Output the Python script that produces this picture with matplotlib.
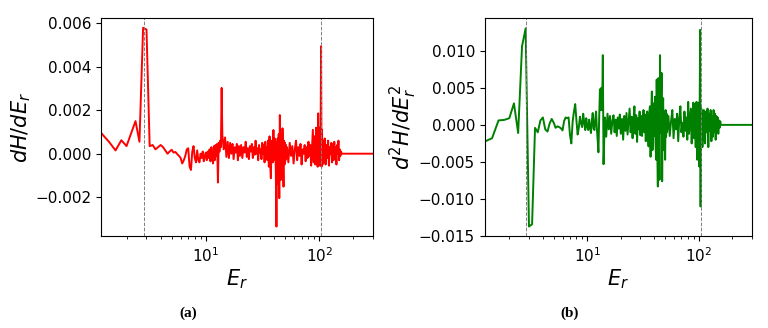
import numpy as np
import matplotlib
matplotlib.use('Agg')
import matplotlib.pyplot as plt

# energy grid shared by both panels
E_r = [1.2, 1.4, 1.6, 1.8, 2.0, 2.2, 2.4, 2.6, 2.8, 3.0,
       3.2, 3.4, 3.6, 3.8, 4.0, 4.2, 4.4, 4.6, 4.8, 5.0,
       5.2, 5.4, 5.6, 5.8, 6.0, 6.2, 6.4, 6.6, 6.8, 7.0,
       7.2, 7.4, 7.6, 7.8, 8.0, 8.2, 8.4, 8.6, 8.8, 9.0,
       9.2, 9.4, 9.6, 9.8, 10.0,
       10.2, 10.4, 10.6, 10.8, 11.0, 11.2, 11.4, 11.6, 11.8, 12.0,
       12.2, 12.4, 12.6, 12.8, 13.0, 13.2, 13.4, 13.6, 13.8, 14.0,
       14.4, 14.8, 15.2, 15.6, 16.0, 16.4, 16.8, 17.2, 17.6, 18.0,
       18.4, 18.8, 19.2, 19.6, 20.0,
       20.5, 21, 21.5, 22, 22.5, 23, 23.5, 24, 24.5, 25,
       25.5, 26, 26.5, 27, 27.5, 28, 28.5, 29, 29.5, 30,
       30.5, 31, 31.5, 32, 32.5, 33, 33.5, 34, 34.5, 35,
       35.5, 36, 36.5, 37, 37.5, 38, 38.5, 39, 39.5, 40,
       40.5, 41, 41.5, 42, 42.5, 43, 43.5, 44, 44.5, 45,
       45.5, 46, 46.5, 47, 47.5, 48, 48.5, 49, 49.5, 50,
       50.5, 51, 51.5, 52,
       53.5, 55, 56.5, 58, 59.5, 61, 62.5, 64, 65.5, 67,
       68.5, 70, 71.5, 73, 74.5, 76, 77.5, 79, 80.5, 82,
       83.5, 85, 86.5, 88, 89.5, 91, 92.5, 94, 95.5,
       97, 98, 99, 100, 101, 102, 103, 104, 105, 106,
       107, 108, 109, 110, 111, 112,
       114, 116, 118, 120, 122, 124, 126, 128, 130, 132,
       134, 136, 138, 140, 142, 144, 146, 148, 150, 152,
       154, 156, 158,
       160, 300]

# dH/dE_r in units of 1e-3
dH = [0.94, 0.55, 0.15, 0.62, 0.35, 0.95, 1.50, 0.55, 5.80, 5.72,
      0.35, 0.40, 0.20, 0.30, 0.40, 0.30, 0.15, 0.00, 0.10, 0.18,
      0.05, 0.08, -0.02, -0.10, -0.20, -0.45, -0.30, -0.10, 0.20, 0.25,
      -0.60, -0.75, 0.10, 0.35, -0.20, -0.40, 0.15, -0.30, -0.40, 0.00,
      -0.20, 0.10, -0.35, -0.10, 0.05,
      -0.30, 0.10, -0.20, 0.20, -0.35, 0.30, -0.20, -0.45, 0.35, -0.30,
      0.40, -0.10, 0.45, -1.33, 0.50, 0.10, 0.60, 0.30, 3.03, 0.85,
      0.20, 0.75, -0.15, 0.55, -0.20, 0.50, 0.00, 0.45, -0.25, 0.30,
      0.05, 0.45, -0.30, 0.35, -0.10,
      0.40, -0.20, 0.30, 0.05, 0.55, -0.15, 0.25, -0.25, 0.35, 0.10,
      0.45, -0.20, 0.30, -0.05, 0.60, 0.00, 0.25, -0.30, 0.40, 0.05,
      0.20, -0.25, 0.50, 0.00, 0.40, -0.40, 0.55, -0.20, 0.30, -0.30,
      0.60, -0.60, 0.80, -0.50, -1.13, 0.30, 0.60, -0.40, 1.09, -0.30,
      0.70, 0.55, -0.90, -3.36, -0.50, 0.70, -1.40, 0.90, -2.05, 1.78,
      -0.30, -1.21, 0.80, -0.90, 1.17, -0.40, -1.52, 0.60, -0.50, 0.50,
      -0.30, 0.40, -0.20, 0.30,
      -0.40, 0.50, -0.10, 0.35, -0.45, 0.20, 0.60, -0.30, 0.30, -0.10,
      0.45, -0.50, 0.20, 0.00, 0.40, -0.35, 0.30, -0.20, 0.55, -0.10,
      0.40, -0.55, 0.30, 1.10, -0.40, 0.80, -0.50, 1.20, -0.30,
      -0.60, 1.86, -0.40, 1.20, -0.55, 0.80, 1.00, 4.95, -0.60, 1.10,
      -0.50, 0.60, -0.40, 0.50, -0.20, 0.70,
      -0.50, 0.40, -0.20, 0.60, -0.55, 0.30, 0.00, 0.50, -0.40, 0.45,
      -0.30, 0.55, -0.20, 0.30, -0.50, 0.40, 0.00, 0.60, -0.30, 0.20,
      -0.10, 0.10, 0.00,
      0.00, 0.00]

# d2H/dE_r2 in units of 1e-3
d2H = [-2.25, -1.80, 0.60, 0.67, 0.90, 2.90, -1.10, 10.6, 13.0, -13.7,
       -13.4, -0.40, -1.00, 0.60, 1.00, -0.60, -0.90, 0.20, 0.80, 0.30,
       -0.40, -0.20, -0.30, -0.45, -0.75, 0.50, 1.00, 0.90, 1.00, -1.35,
       -2.50, 0.50, 1.80, 2.80, 0.60, -1.30, -0.40, 1.10, 0.20, -0.30,
       1.50, 0.30, -0.70, 0.90, -0.20,
       -0.70, 0.70, -0.30, -1.10, 0.60, 1.60, -0.50, -0.70, 0.80, 1.80,
       -0.50, -2.00, -3.70, 1.00, 4.80, 2.00, 5.00, 2.00, 9.40, -5.30,
       1.00, -1.60, 1.50, -0.60, 1.20, -1.20, 0.50, 1.30, -1.00, 0.70,
       -1.50, 1.00, -0.50, 1.40, -1.20,
       0.80, -2.00, 1.20, -0.80, 1.60, -1.30, 0.40, 2.20, -1.00, 1.10,
       -1.80, 0.60, 2.50, -1.20, 1.30, -2.30, 0.90, -0.60, 1.80, -1.40,
       1.20, -1.50, 0.80, 2.00, -1.00, 1.40, -2.20, 0.50, 1.80, -1.20,
       -2.90, 1.50, 2.50, -4.30, 1.00, 4.50, -3.40, 0.80, 2.90, -1.50,
       3.80, -2.50, -4.70, 6.10, -3.00, -8.30, 6.30, 0.70, -7.40, 9.40,
       -1.10, 3.00, 7.00, -7.60, 1.50, 3.60, -3.40, 1.60, -2.00, -4.70,
       2.00, -1.60, 1.50, -1.00,
       1.20, -1.50, 0.50, 2.00, -1.80, 0.80, -0.60, 1.50, -2.20, 0.90,
       2.50, -1.00, 0.30, -1.60, 1.80, -0.80, 1.00, -2.00, 3.10, -1.20,
       0.60, 2.20, -2.50, 1.40, 3.00, -1.80, 2.80, -3.00, 3.10,
       -4.70, 2.50, -3.40, 3.00, -5.60, 2.00, 12.8, -11.0, 2.50, -2.50,
       2.00, -3.00, 1.50, -1.80, 2.00, -1.20,
       -2.50, 1.80, -1.00, 2.20, -3.00, 1.50, -0.80, 2.00, -2.20, 1.20,
       -1.60, 2.00, -1.00, 1.50, -2.00, 1.20, -0.80, 1.00, -1.20, 0.60,
       -0.40, 0.50, 0.00,
       0.00, 0.00]

markers_E = [2.85, 104]

x = np.array(E_r)
y1 = np.array(dH) * 1e-3
y2 = np.array(d2H) * 1e-3

fig = plt.figure(figsize=(7.68, 3.28), dpi=100)
ax1 = fig.add_axes([0.132, 0.280, 0.354, 0.665])
ax2 = fig.add_axes([0.631, 0.280, 0.348, 0.665])

ax1.plot(x, y1, color='red', lw=1.4)
ax2.plot(x, y2, color='green', lw=1.4)

for ax in (ax1, ax2):
    ax.set_xscale('log')
    ax.set_xlim(1.2, 300)
    for e in markers_E:
        ax.axvline(e, color='gray', ls='--', lw=0.7)
    ax.tick_params(labelsize=11)
    ax.set_xlabel(r'$E_r$', fontsize=15, labelpad=2)

ax1.set_ylim(-0.0038, 0.00625)
ax2.set_ylim(-0.015, 0.0144)
ax1.set_yticks([-0.002, 0.0, 0.002, 0.004, 0.006])
ax2.set_yticks([-0.015, -0.010, -0.005, 0.0, 0.005, 0.010])
ax1.set_ylabel(r'$dH/dE_r$', fontsize=15, labelpad=2)
ax2.set_ylabel(r'$d^2H/dE_r^2$', fontsize=15, labelpad=0)

fig.text(0.245, 0.035, '(a)', family='Liberation Serif', weight='bold', fontsize=11, ha='center')
fig.text(0.741, 0.035, '(b)', family='Liberation Serif', weight='bold', fontsize=11, ha='center')

fig.savefig('out.png', dpi=100)
